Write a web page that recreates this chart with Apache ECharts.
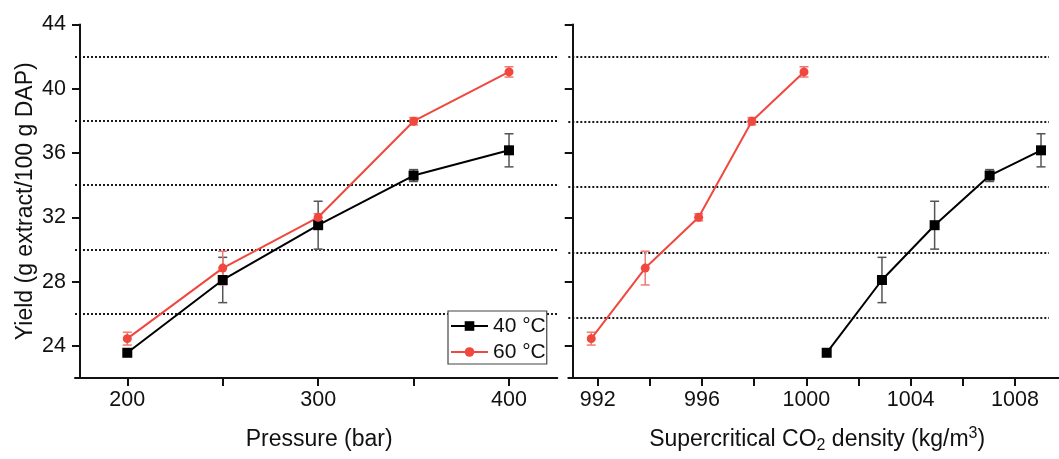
<!DOCTYPE html>
<html>
<head>
<meta charset="utf-8">
<script src="https://cdn.jsdelivr.net/npm/echarts@6/dist/echarts.min.js"></script>
<style>
html,body{margin:0;padding:0;background:#fff;}
#chart{width:1059px;height:459px;}
</style>
</head>
<body>
<div id="chart"></div>
<script>
// ---- data ----
const pressure = [200, 250, 300, 350, 400];
const yield40 = [23.57, 28.10, 31.51, 34.60, 36.17];
const yield60 = [24.45, 28.84, 32.00, 37.98, 41.05];
const err40 = [0.0, 1.41, 1.49, 0.37, 1.03];
const err60 = [0.40, 1.05, 0.22, 0.23, 0.32];
const density40 = [1000.78, 1002.90, 1004.92, 1007.03, 1009.00];
const density60 = [991.75, 993.82, 995.87, 997.91, 999.91];
const yTicks = [24, 28, 32, 36, 40, 44];
const pressureTicks = [200, 250, 300, 350, 400];
const pressureLabels = [200, 300, 400];
const densityTicks = [992, 994, 996, 998, 1000, 1002, 1004, 1006, 1008];
const densityLabels = [992, 996, 1000, 1004, 1008];
const seriesNames = ['40 °C', '60 °C'];

// ---- styles ----
const FONT = 'Liberation Sans, Arial, sans-serif';
const BLACK = '#000000';
const RED = '#f0483e';
const ERR_BLACK = '#555555';
const ERR_RED = '#f07a72';
const AX = '#111111';

function pairs(xs, ys) { return xs.map((x, i) => [x, ys[i]]); }
function errData(xs, ys, es) { return xs.map((x, i) => [x, ys[i] - es[i], ys[i] + es[i]]); }

function errSeries(data, color, xi, yi) {
  return {
    type: 'custom', xAxisIndex: xi, yAxisIndex: yi, z: 1, silent: true,
    encode: { x: 0, y: [1, 2] },
    data: data,
    renderItem: function (params, api) {
      const x = api.value(0);
      const lo = api.coord([x, api.value(1)]);
      const hi = api.coord([x, api.value(2)]);
      if (Math.abs(lo[1] - hi[1]) < 1) return null;
      const w = 4.5;
      const st = { stroke: color, lineWidth: 1.5, fill: null };
      return {
        type: 'group', children: [
          { type: 'line', shape: { x1: lo[0], y1: lo[1], x2: hi[0], y2: hi[1] }, style: st },
          { type: 'line', shape: { x1: lo[0] - w, y1: lo[1], x2: lo[0] + w, y2: lo[1] }, style: st },
          { type: 'line', shape: { x1: hi[0] - w, y1: hi[1], x2: hi[0] + w, y2: hi[1] }, style: st }
        ]
      };
    }
  };
}

function lineSeries(name, data, color, symbol, size, xi, yi) {
  return {
    name: name, type: 'line', xAxisIndex: xi, yAxisIndex: yi, z: 3,
    data: data, symbol: symbol, symbolSize: size, showSymbol: true,
    lineStyle: { color: color, width: 2 },
    itemStyle: { color: color },
    emphasis: { disabled: true },
    animation: false
  };
}

const plain = v => String(v);
const axisLineStyle = { show: true, onZero: false, lineStyle: { color: AX, width: 2 } };
const tickStyle = { show: true, inside: false, length: 8, lineStyle: { color: AX, width: 2 } };
const labelStyle = { fontSize: 21.5, fontFamily: FONT, color: AX, formatter: plain };
const gridDotted = {
  show: true, showMinLine: false, showMaxLine: false,
  lineStyle: { color: '#1a1a1a', width: 2, type: [2, 2] }
};

const option = {
  animation: false,
  backgroundColor: '#ffffff',
  grid: [
    { left: 75, top: 24.5, width: 482.3, height: 358 },
    { left: 568.3, top: 24.5, width: 490.7, height: 358 },
    { left: 568.3, top: 24.5, width: 480.7, height: 358 }
  ],
  legend: {
    data: seriesNames,
    orient: 'vertical',
    left: 448, top: 311,
    padding: [4, 1, 1, 2],
    itemWidth: 37, itemHeight: 12, itemGap: 4,
    borderColor: '#444', borderWidth: 1.2,
    backgroundColor: '#fff',
    textStyle: { fontSize: 21, fontFamily: FONT, color: AX, lineHeight: 22 },
    selectedMode: false
  },
  xAxis: [
    {
      type: 'value', gridIndex: 0, min: 172.6, max: 425.3,
      axisLine: axisLineStyle,
      axisTick: Object.assign({}, tickStyle, { customValues: pressureTicks }),
      axisLabel: Object.assign({}, labelStyle, { margin: 11, customValues: pressureLabels }),
      splitLine: { show: false },
      name: 'Pressure (bar)', nameLocation: 'middle', nameGap: 48,
      nameTextStyle: { fontSize: 23, fontFamily: FONT, color: AX, lineHeight: 28, padding: [0, 0, 0, 6] }
    },
    {
      type: 'value', gridIndex: 1, min: 990.87, max: 1009.69,
      axisLine: axisLineStyle,
      axisTick: Object.assign({}, tickStyle, { customValues: densityTicks }),
      axisLabel: Object.assign({}, labelStyle, { margin: 11, customValues: densityLabels }),
      splitLine: { show: false },
      name: 'Supercritical CO{sub|2} density (kg/m{sup|3})', nameLocation: 'middle', nameGap: 48,
      nameTextStyle: {
        fontSize: 23, fontFamily: FONT, color: AX, lineHeight: 28, padding: [0, 0, 0, 7],
        rich: {
          sub: { fontSize: 16, fontFamily: FONT, color: AX, lineHeight: 14, verticalAlign: 'bottom' },
          sup: { fontSize: 16, fontFamily: FONT, color: AX, lineHeight: 10, verticalAlign: 'top' }
        }
      }
    },
    { type: 'value', gridIndex: 2, min: 0, max: 1, show: false }
  ],
  yAxis: [
    {
      type: 'value', gridIndex: 0, min: 22, max: 44, offset: -5,
      axisLine: axisLineStyle,
      axisTick: Object.assign({}, tickStyle, { customValues: yTicks }),
      axisLabel: Object.assign({}, labelStyle, { margin: 14, customValues: yTicks }),
      splitLine: { show: false },
      name: 'Yield (g extract/100 g DAP)', nameLocation: 'middle', nameGap: 43,
      nameTextStyle: { fontSize: 23, fontFamily: FONT, color: AX }
    },
    {
      type: 'value', gridIndex: 0, min: 22, max: 44, interval: 4,
      axisLine: { show: false }, axisTick: { show: false }, axisLabel: { show: false },
      splitLine: gridDotted
    },
    {
      type: 'value', gridIndex: 1, min: 22, max: 44, offset: -4.4,
      axisLine: axisLineStyle,
      axisTick: Object.assign({}, tickStyle, { customValues: yTicks }),
      axisLabel: { show: false },
      splitLine: { show: false }
    },
    {
      type: 'value', gridIndex: 2, min: 22, max: 44, interval: 4,
      axisLine: { show: false }, axisTick: { show: false }, axisLabel: { show: false },
      splitLine: gridDotted
    }
  ],
  series: [
    errSeries(errData(pressure, yield40, err40), ERR_BLACK, 0, 0),
    errSeries(errData(pressure, yield60, err60), ERR_RED, 0, 0),
    lineSeries(seriesNames[0], pairs(pressure, yield40), BLACK, 'rect', 10, 0, 0),
    lineSeries(seriesNames[1], pairs(pressure, yield60), RED, 'circle', 9, 0, 0),
    errSeries(errData(density40, yield40, err40), ERR_BLACK, 1, 2),
    errSeries(errData(density60, yield60, err60), ERR_RED, 1, 2),
    lineSeries(seriesNames[0], pairs(density40, yield40), BLACK, 'rect', 10, 1, 2),
    lineSeries(seriesNames[1], pairs(density60, yield60), RED, 'circle', 9, 1, 2)
  ]
};

const chart = echarts.init(document.getElementById('chart'), null, { renderer: 'canvas' });
chart.setOption(option);
</script>
</body>
</html>
